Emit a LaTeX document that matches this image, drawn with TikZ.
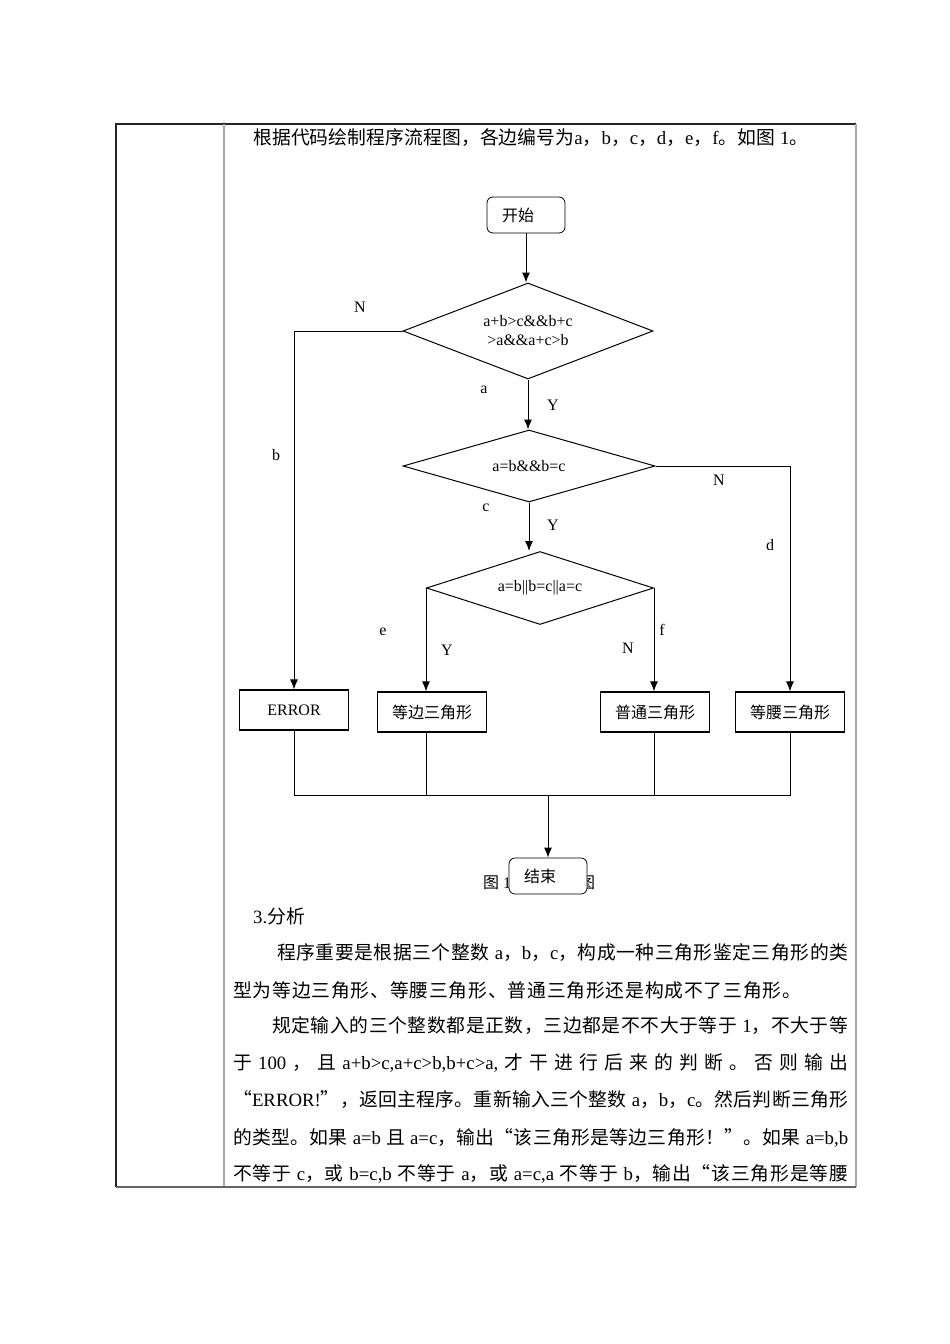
\documentclass[tikz,border=0pt]{standalone}
\usepackage{fontspec}
\setmainfont{Liberation Serif}
\newfontfamily\cjk{Noto Sans CJK SC}
\usetikzlibrary{shapes.geometric,arrows.meta}

\XeTeXinterchartokenstate=1
\newXeTeXintercharclass\zhclass
\makeatletter
\def\setzhrange#1#2{\count@=#1\relax
  \loop\XeTeXcharclass\count@=\zhclass
  \ifnum\count@<#2\relax\advance\count@ by 1\repeat}
\makeatother
\setzhrange{"3000}{"303F}
\setzhrange{"4E00}{"9FFF}
\setzhrange{"FF00}{"FFEF}
\XeTeXcharclass"201C=\zhclass
\XeTeXcharclass"201D=\zhclass
\XeTeXinterchartoks 0 \zhclass = {\cjk}
\XeTeXinterchartoks 4095 \zhclass = {\cjk}
\XeTeXinterchartoks \zhclass 0 = {\rmfamily}
\XeTeXinterchartoks \zhclass 4095 = {\rmfamily}
\XeTeXinterchartoks \zhclass \zhclass = {\hskip 0pt plus 2pt\relax}

\begin{document}
\begin{tikzpicture}[x=1pt, y=-1pt,
    every node/.style={font=\fontsize{16}{19}\selectfont},
    box/.style={draw, line width=1.2pt, minimum width=109pt, minimum height=40pt, inner sep=0pt},
    term/.style={draw, rounded corners=6pt, line width=0.8pt, minimum height=36pt, text width=48pt, inner xsep=15pt, inner ysep=0pt, align=left},
    cond/.style={draw, diamond, line width=1pt, inner sep=0pt, align=center},
    flow/.style={line width=1pt},
    arr/.style={line width=1pt, -{Latex[length=10pt, width=8pt]}},
    body/.style={anchor=base west, inner sep=0pt, font=\fontsize{18.8}{18.8}\selectfont}]
    \useasboundingbox (0,0) rectangle (950,1344);
    \draw[black!85, line width=1.2pt] (116,1187) -- (116,124) -- (856,124);
    \draw[gray!70, line width=1.4pt] (224,124) -- (224,1187);
    \draw[gray!70, line width=1.4pt] (856,124) -- (856,1187);
    \draw[black!60, line width=1.2pt] (116,1187) -- (856,1187);
    \node[body] (intro) at (253,144) {\makebox[555pt][s]{根据代码绘制程序流程图，各边编号为a，b，c，d，e，f。如图 1。}};
    \node[term] (start) at (526,215) {开始};
    \node[cond, aspect=2.6, minimum width=250pt, minimum height=96pt] (tri) at (528,331) {a+b>c\&\&b+c\\>a\&\&a+c>b};
    \node[cond, aspect=3.5, minimum width=252pt, minimum height=72pt] (equ) at (529,466) {a=b\&\&b=c};
    \node[cond, aspect=3.1, minimum width=227pt, minimum height=73pt] (iso) at (540,588) {a=b||b=c||a=c};
    \node[box] (err) at (294,710) {ERROR};
    \node[box] (dengbian) at (432,712) {等边三角形};
    \node[box] (putong) at (655,712) {普通三角形};
    \node[box] (dengyao) at (790,712) {等腰三角形};
    \coordinate (join) at (548,795);
    \draw[arr] (start.south) -- (start.south |- tri.north);
    \draw[arr] (tri.west) -| (err.north);
    \draw[arr] (tri.south) -- (tri.south |- equ.north);
    \draw[arr] (equ.east) -| (dengyao.north);
    \draw[arr] (equ.south) -- (equ.south |- iso.north);
    \draw[arr] (iso.west) -- (iso.west |- dengbian.north);
    \draw[arr] (iso.east) -- (iso.east |- putong.north);
    \draw[flow] (err.south) -- (err.south |- join) -- (dengyao.south |- join) -- (dengyao.south);
    \draw[flow] (dengbian.south -| iso.west) -- (join -| iso.west);
    \draw[flow] (putong.south -| iso.east) -- (join -| iso.east);
    \node (n1) at (360,307) {N};
    \node (eb) at (276,455) {b};
    \node (ea) at (484,390) {a};
    \node (y1) at (553,405) {Y};
    \node (n2) at (719,480) {N};
    \node (ed) at (770,545) {d};
    \node (ec) at (486,508) {c};
    \node (y2) at (553,525) {Y};
    \node (ee) at (383,632) {e};
    \node (y3) at (447,650) {Y};
    \node (ef) at (662,630) {f};
    \node (n3) at (628,648) {N};
    \node[anchor=base west, inner sep=0pt] (cap) at (483,888) {图 1 程序流程图};
    \node[term, fill=white] (stop) at (548,876) {结束};
    \draw[arr] (join) -- (stop.north);
    \node[body] (sec) at (253,923) {3.分析};
    \node[body] (p1a) at (277,959) {\makebox[571pt][s]{程序重要是根据三个整数 a，b，c，构成一种三角形鉴定三角形的类}};
    \node[body] (p1b) at (233,997) {\makebox[568pt][s]{型为等边三角形、等腰三角形、普通三角形还是构成不了三角形。}};
    \node[body] (p2a) at (272,1032) {\makebox[576pt][s]{规定输入的三个整数都是正数，三边都是不不大于等于 1，不大于等}};
    \node[body] (p2b) at (233,1069) {\makebox[615pt][s]{于 100 ， 且 a+b>c,a+c>b,b+c>a, 才 干 进 行 后 来 的 判 断 。 否 则 输 出}};
    \node[body] (p2c) at (233,1106) {\makebox[615pt][s]{“ERROR!”，返回主程序。重新输入三个整数 a，b，c。然后判断三角形}};
    \node[body] (p2d) at (233,1144) {\makebox[615pt][s]{的类型。如果 a=b 且 a=c，输出“该三角形是等边三角形！”。如果 a=b,b}};
    \node[body] (p2e) at (233,1180) {\makebox[615pt][s]{不等于 c，或 b=c,b 不等于 a，或 a=c,a 不等于 b，输出“该三角形是等腰}};
\end{tikzpicture}
\end{document}
